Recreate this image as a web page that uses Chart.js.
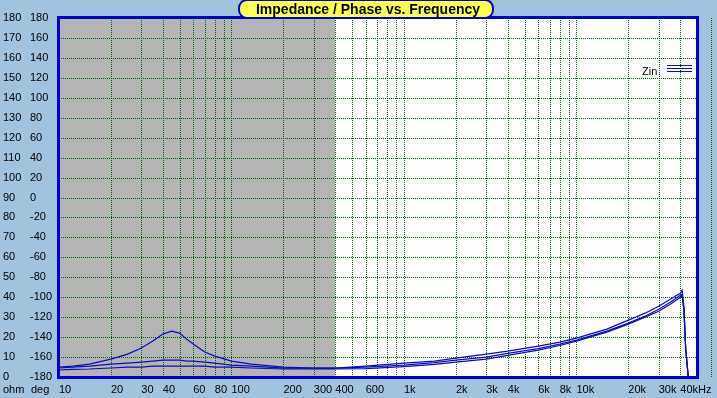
<!DOCTYPE html>
<html>
<head>
<meta charset="utf-8">
<script src="https://cdn.jsdelivr.net/npm/chart.js"></script>
<style>
  body { margin: 0; background: #A0C4DE; }
  #wrap { width: 717px; height: 398px; }
</style>
</head>
<body>
<div id="wrap"><canvas id="zin-chart" width="717" height="398"></canvas></div>
<script>
const freqHz = [10, 12, 15, 20, 25, 30, 35, 40, 45, 50, 55, 60, 70, 80, 100, 130, 200, 300, 400, 600,
  1000, 1500, 2000, 3000, 4000, 6000, 8000, 10000, 15000, 20000, 25000, 30000, 35000, 40000, 41000, 42000, 43000, 44500];

// impedance, ohm (three Zin traces)
const zinA = [5, 5.5, 6.5, 9, 11.5, 14.5, 18, 21.5, 23, 22, 19, 16.5, 12.5, 10.5, 8, 6.5, 5, 4.5, 4.5, 5.5,
  7, 8, 9.5, 11.5, 13, 15.5, 17.5, 19.5, 24, 28.5, 32, 35.5, 39, 42, 43.5, 35, 14, 0];
const zinB = [4.5, 5, 5.5, 6.5, 7, 7.5, 8, 8.5, 8.5, 8.5, 8, 8, 7.5, 7, 6, 5.5, 4.5, 4.5, 4.5, 5,
  6, 7.2, 8.5, 10, 11.8, 14.2, 16.5, 18.5, 23, 27, 30.5, 34, 37.5, 41, 41.5, 34, 14, 0];
const zinC = [3.5, 3.8, 4, 4.5, 5, 5, 5.5, 5.5, 5.5, 5.5, 5.5, 5.5, 5.5, 5, 5, 4.5, 4, 4, 4, 4.2,
  5.2, 6.3, 7.5, 9, 10.8, 13.5, 15.8, 18, 22.5, 26.5, 30, 33, 36.5, 40, 41, 33, 14, 0];

// labelled frequency ticks
const xTickValues = [10, 20, 30, 40, 60, 80, 100, 200, 300, 400, 600, 1000, 2000, 3000, 4000, 6000, 8000, 10000, 20000, 30000, 40000];
const xTickLabels = ['10', '20', '30', '40', '60', '80', '100', '200', '300', '400', '600', '1k', '2k', '3k', '4k', '6k', '8k', '10k', '20k', '30k', '40kHz'];

const shadedUpTo = 400; // grey band from 10 Hz to here

// grid lines at 1..9 of each decade
const gridFreqs = [];
for (let d = 10; d <= 10000; d *= 10) {
  for (let m = 1; m <= 9; m++) gridFreqs.push(d * m);
}
gridFreqs.push(50000);

const lineBlue = '#0A0AC0';
const gridGreen = '#006400';
const uiFont = '"Liberation Sans", Arial, sans-serif';

const toPoints = (ys) => freqHz.map((f, i) => ({ x: f, y: ys[i] }));

// dotted grid, one pixel on / one off, placed from the scales' ticks
const dottedGrid = {
  id: 'dottedGrid',
  beforeDatasetsDraw(chart) {
    const { ctx, chartArea: a, scales } = chart;
    ctx.save();
    ctx.fillStyle = gridGreen;
    scales.x.ticks.forEach((t) => {
      const x = Math.round(scales.x.getPixelForValue(t.value));
      for (let y = a.top; y < a.bottom; y += 2) ctx.fillRect(x, y, 1, 1);
    });
    scales.yOhm.ticks.forEach((t) => {
      const y = Math.round(scales.yOhm.getPixelForValue(t.value));
      for (let x = a.left; x < a.right; x += 2) ctx.fillRect(x, y, 1, 1);
    });
    ctx.restore();
  }
};

const decor = {
  id: 'decor',
  beforeDraw(chart) {
    const { ctx, chartArea: a, scales } = chart;
    ctx.save();
    ctx.fillStyle = '#A0C4DE';
    ctx.fillRect(0, 0, chart.width, chart.height);
    ctx.fillStyle = '#FFFFFF';
    ctx.fillRect(a.left, a.top, a.right - a.left, a.bottom - a.top);
    const xr = Math.round(scales.x.getPixelForValue(shadedUpTo));
    ctx.fillStyle = '#B4B4B4';
    ctx.fillRect(a.left, a.top, xr - a.left, a.bottom - a.top);
    ctx.restore();
  },
  afterDraw(chart) {
    const { ctx, chartArea: a } = chart;
    ctx.save();
    // plot frame
    ctx.strokeStyle = '#0000D0';
    ctx.lineWidth = 3;
    ctx.strokeRect(a.left - 0.5, a.top - 0.5, a.right - a.left + 1, a.bottom - a.top + 1);

    // title box
    const bx = 239, by = 0, bw = 254, bh = 18, r = 8;
    ctx.beginPath();
    ctx.moveTo(bx + r, by);
    ctx.lineTo(bx + bw - r, by);
    ctx.arcTo(bx + bw, by, bx + bw, by + r, r);
    ctx.lineTo(bx + bw, by + bh - r);
    ctx.arcTo(bx + bw, by + bh, bx + bw - r, by + bh, r);
    ctx.lineTo(bx + r, by + bh);
    ctx.arcTo(bx, by + bh, bx, by + bh - r, r);
    ctx.lineTo(bx, by + r);
    ctx.arcTo(bx, by, bx + r, by, r);
    ctx.closePath();
    ctx.fillStyle = '#FFFF50';
    ctx.fill();
    ctx.lineWidth = 2;
    ctx.strokeStyle = '#0000D0';
    ctx.stroke();
    ctx.fillStyle = '#000000';
    ctx.font = 'bold 14px ' + uiFont;
    ctx.textAlign = 'center';
    ctx.textBaseline = 'middle';
    ctx.fillText('Impedance / Phase vs. Frequency', bx + bw / 2 + 2, by + bh / 2 + 1);

    // legend
    ctx.font = '11px ' + uiFont;
    ctx.textAlign = 'left';
    ctx.fillText('Zin', 642, 72);
    ctx.strokeStyle = lineBlue;
    ctx.lineWidth = 1;
    [65.5, 68.5, 71.5].forEach((y) => {
      ctx.beginPath();
      ctx.moveTo(667, y);
      ctx.lineTo(692, y);
      ctx.stroke();
    });

    // axis unit labels
    ctx.fillText('ohm', 3, 390);
    ctx.fillText('deg', 31, 390);
    ctx.restore();
  }
};

const traceStyle = { borderColor: lineBlue, borderWidth: 1.2, pointRadius: 0, tension: 0, yAxisID: 'yOhm' };

new Chart(document.getElementById('zin-chart'), {
  type: 'line',
  data: {
    datasets: [
      { label: 'Zin', data: toPoints(zinA), ...traceStyle },
      { label: 'Zin', data: toPoints(zinB), ...traceStyle },
      { label: 'Zin', data: toPoints(zinC), ...traceStyle }
    ]
  },
  options: {
    responsive: false,
    animation: false,
    events: [],
    layout: { padding: { left: 3, top: 18, right: 20, bottom: 0 } },
    plugins: { legend: { display: false }, tooltip: { enabled: false } },
    scales: {
      x: {
        type: 'logarithmic',
        min: 10,
        max: 50000,
        afterBuildTicks: (s) => { s.ticks = gridFreqs.map((v) => ({ value: v })); },
        afterFit: (s) => { s.height = 21; },
        grid: { display: false, drawTicks: false },
        border: { display: false },
        ticks: {
          autoSkip: false,
          maxRotation: 0,
          align: 'start',
          padding: 6,
          color: '#000000',
          font: { family: uiFont, size: 11 },
          callback: (v) => {
            const i = xTickValues.indexOf(v);
            return i >= 0 ? xTickLabels[i] : '';
          }
        }
      },
      yOhm: {
        type: 'linear',
        position: 'left',
        weight: 2,
        min: 0,
        max: 180,
        afterFit: (s) => { s.width = 27; },
        grid: { display: false, drawTicks: false },
        border: { display: false },
        ticks: { stepSize: 10, autoSkip: false, crossAlign: 'far', padding: 0, color: '#000000', font: { family: uiFont, size: 11 } }
      },
      yDeg: {
        type: 'linear',
        position: 'left',
        weight: 1,
        min: -180,
        max: 180,
        afterFit: (s) => { s.width = 29; },
        grid: { display: false, drawTicks: false },
        border: { display: false },
        ticks: { stepSize: 20, autoSkip: false, crossAlign: 'far', padding: 0, color: '#000000', font: { family: uiFont, size: 11 } }
      }
    }
  },
  plugins: [decor, dottedGrid]
});
</script>
</body>
</html>
